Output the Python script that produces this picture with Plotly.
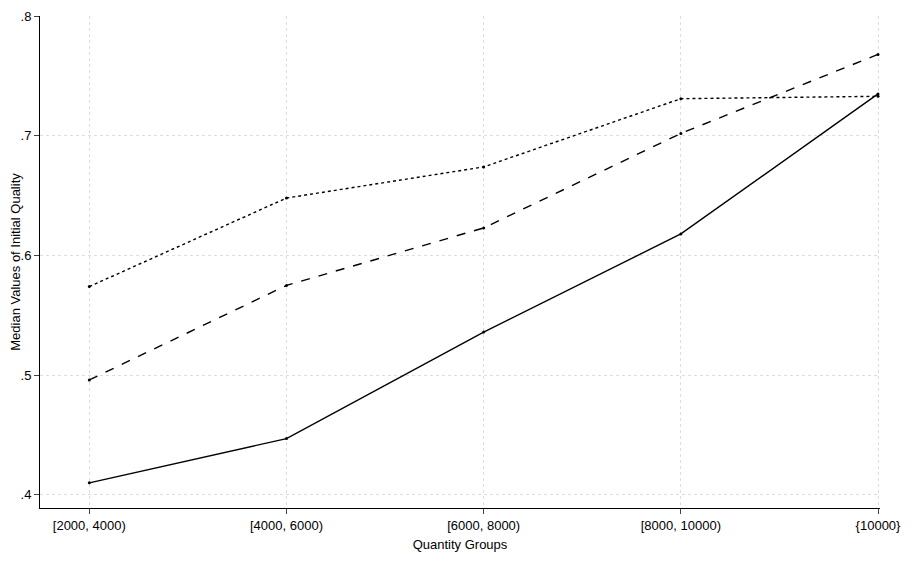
import plotly.graph_objects as go

categories = ["[2000, 4000)", "[4000, 6000)", "[6000, 8000)", "[8000, 10000)", "{10000}"]
solid = [0.410, 0.447, 0.536, 0.618, 0.735]
dashed = [0.496, 0.575, 0.623, 0.702, 0.768]
dotted = [0.574, 0.648, 0.674, 0.731, 0.733]
yticks = [0.4, 0.5, 0.6, 0.7, 0.8]
ytext = [".4", ".5", ".6", ".7", ".8"]

x = list(range(len(categories)))
fig = go.Figure()
for vals, dash in [(solid, "solid"), (dashed, "dash"), (dotted, "dot")]:
    fig.add_trace(go.Scatter(x=x, y=vals, mode="lines+markers",
                             line=dict(color="black", width=1.4, dash=dash),
                             marker=dict(color="black", size=3), showlegend=False))
fig.update_layout(
    width=912, height=569, plot_bgcolor="white", paper_bgcolor="white",
    margin=dict(l=32, r=40, t=8, b=69),
    font=dict(family="Liberation Sans, Arial", size=13, color="black"),
)
fig.update_xaxes(range=[-0.25, 4.01], tickvals=x, ticktext=categories, automargin=False,
                 showline=True, linecolor="black", ticks="outside", ticklen=5,
                 showgrid=True, gridcolor="#dddddd", griddash="dot",
                 title=dict(text="Quantity Groups", font=dict(size=13), standoff=8), zeroline=False)
fig.update_yaxes(range=[0.389, 0.8001], tickvals=yticks, ticktext=ytext, automargin=False,
                 showline=True, linecolor="black", ticks="outside", ticklen=5,
                 showgrid=True, gridcolor="#dddddd", griddash="dot",
                 title=dict(text="Median Values of Initial Quality", font=dict(size=13), standoff=4), zeroline=False)
fig.write_html("out.html")
